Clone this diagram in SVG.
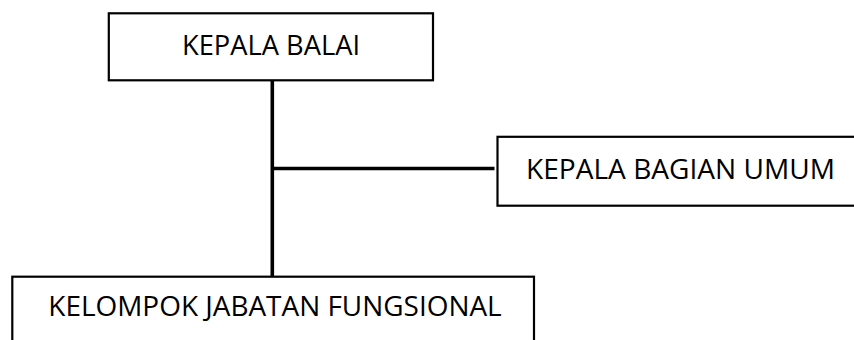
<svg xmlns="http://www.w3.org/2000/svg" width="854" height="340" viewBox="0 0 854 340">
<style>
.box{fill:#ffffff;stroke:#000000;stroke-width:2.2}
.lbl{font-family:"Open Sans","Liberation Sans",sans-serif;font-size:28px;fill:#000000}
.conn{stroke:#000000;stroke-width:3.6;fill:none}
</style>
<rect x="0" y="0" width="854" height="340" fill="#ffffff"/>
<g id="connectors">
<line class="conn" x1="272.3" y1="81" x2="272.3" y2="276.5"/>
<line class="conn" x1="272.3" y1="168.5" x2="494.5" y2="168.5"/>
</g>
<g id="kepala-balai">
<rect class="box" x="108.8" y="13.3" width="324.2" height="67"/>
<text class="lbl" x="182" y="55" textLength="178" lengthAdjust="spacingAndGlyphs">KEPALA BALAI</text>
</g>
<g id="kepala-bagian-umum">
<rect class="box" x="497.5" y="136.8" width="370" height="68.9"/>
<text class="lbl" x="526" y="179.3" textLength="309" lengthAdjust="spacingAndGlyphs">KEPALA BAGIAN UMUM</text>
</g>
<g id="kelompok-jabatan-fungsional">
<rect class="box" x="12.3" y="276.7" width="521.7" height="80"/>
<text class="lbl" x="48.3" y="315.7" textLength="453.4" lengthAdjust="spacingAndGlyphs">KELOMPOK JABATAN FUNGSIONAL</text>
</g>
</svg>
